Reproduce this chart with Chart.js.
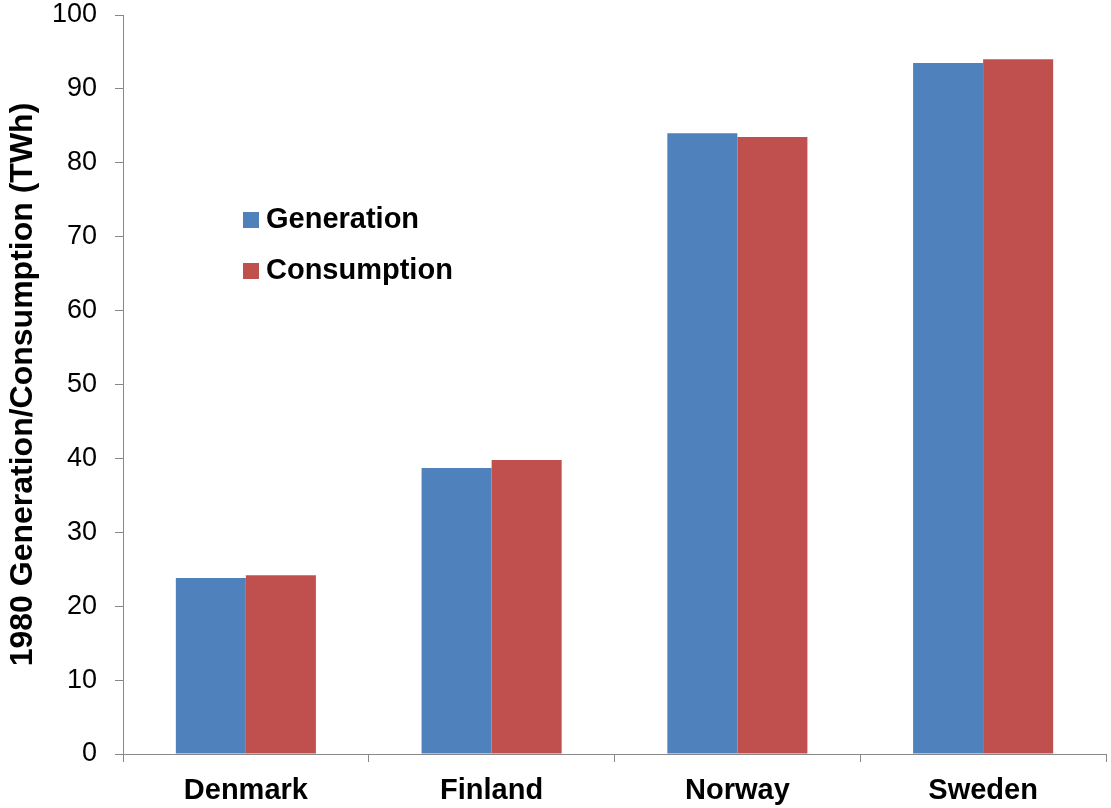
<!DOCTYPE html>
<html>
<head>
<meta charset="utf-8">
<script src="https://cdn.jsdelivr.net/npm/chart.js@4"></script>
<style>
html,body{margin:0;padding:0;background:#fff;}
#wrap{width:1111px;height:808px;position:relative;}
</style>
</head>
<body>
<div id="wrap"><canvas id="c" width="1111" height="808"></canvas></div>
<script>
const categories = ["Denmark", "Finland", "Norway", "Sweden"];
const generation = [23.8, 38.7, 84.0, 93.5];
const consumption = [24.2, 39.8, 83.5, 94.0];
const seriesNames = ["Generation", "Consumption"];
const yTitle = "1980 Generation/Consumption (TWh)";

const FONT = "'Liberation Sans', Arial, sans-serif";

const legendPlugin = {
  id: 'customLegend',
  afterDraw(chart) {
    const ctx = chart.ctx;
    ctx.save();
    ctx.font = "bold 29px " + FONT;
    ctx.textBaseline = 'middle';
    ctx.textAlign = 'left';
    const ys = [220, 271];
    chart.data.datasets.forEach((ds, i) => {
      ctx.fillStyle = ds.backgroundColor;
      ctx.fillRect(243, ys[i] - 8, 16, 16);
      ctx.fillStyle = '#000';
      ctx.fillText(ds.label, 266, ys[i]);
    });
    ctx.restore();
  }
};

new Chart(document.getElementById('c'), {
  type: 'bar',
  data: {
    labels: categories,
    datasets: [
      { label: seriesNames[0], data: generation, backgroundColor: '#4F81BD', categoryPercentage: 0.57, barPercentage: 1.0 },
      { label: seriesNames[1], data: consumption, backgroundColor: '#C0504D', categoryPercentage: 0.57, barPercentage: 1.0 }
    ]
  },
  options: {
    responsive: false,
    animation: false,
    layout: { padding: { top: 15, right: 5, left: 0, bottom: 0 } },
    plugins: { legend: { display: false }, tooltip: { enabled: false } },
    scales: {
      x: {
        offset: true,
        grid: { display: true, offset: true, drawOnChartArea: false, tickLength: 8, color: '#888', lineWidth: 1 },
        border: { color: '#888', width: 1 },
        ticks: { color: '#000', font: { family: FONT, size: 29, weight: 'bold' }, padding: 12 },
        afterFit(s) { s.height = 54; s.paddingLeft = 0; s.paddingRight = 0; }
      },
      y: {
        min: 0, max: 100,
        ticks: { stepSize: 10, color: '#000', font: { family: FONT, size: 27 }, padding: 18 },
        grid: { display: true, drawOnChartArea: false, tickLength: 8, color: '#888', lineWidth: 1 },
        border: { color: '#888', width: 1 },
        title: { display: true, text: yTitle, color: '#000', font: { family: FONT, size: 32, weight: 'bold' }, padding: { top: 4, bottom: 0 } },
        afterFit(s) { s.width = 123; s.paddingTop = 0; s.paddingBottom = 0; }
      }
    }
  },
  plugins: [legendPlugin]
});
</script>
</body>
</html>
